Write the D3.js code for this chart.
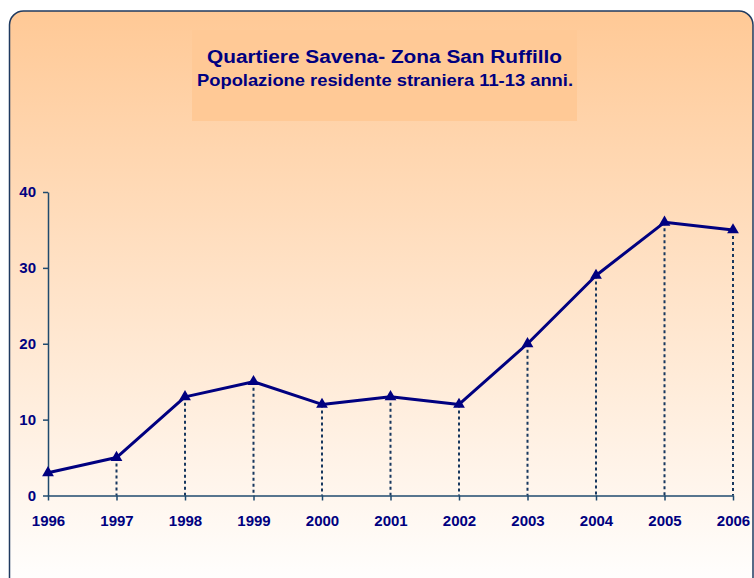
<!DOCTYPE html>
<html>
<head>
<meta charset="utf-8">
<script src="https://cdn.jsdelivr.net/npm/d3@7/dist/d3.min.js"></script>
<style>
  html, body { margin: 0; padding: 0; background: #fff; }
  text { font-family: Arial, "Liberation Sans", sans-serif; font-weight: bold; fill: #000080; }
</style>
</head>
<body>
<div id="chart"></div>
<script>
var years = [1996, 1997, 1998, 1999, 2000, 2001, 2002, 2003, 2004, 2005, 2006];
var values = [3, 5, 13, 15, 12, 13, 12, 20, 29, 36, 35];
var yTicks = [0, 10, 20, 30, 40];
var title1 = "Quartiere Savena- Zona San Ruffillo";
var title2 = "Popolazione residente straniera 11-13 anni.";

var w = 754;
var h = 578;

var svg = d3.select("#chart")
  .append("svg")
  .attr("width", w)
  .attr("height", h);

var defs = svg.append("defs");
var grad = defs.append("linearGradient")
  .attr("id", "bg")
  .attr("x1", 0).attr("y1", 0)
  .attr("x2", 0).attr("y2", 1);
grad.append("stop").attr("offset", "0%").attr("stop-color", "#ffc996");
grad.append("stop").attr("offset", "100%").attr("stop-color", "#ffffff");

// chart area with rounded border
svg.append("rect")
  .attr("x", 9.5)
  .attr("y", 11)
  .attr("width", 743.5)
  .attr("height", 580)
  .attr("rx", 14)
  .attr("fill", "url(#bg)")
  .attr("stroke", "#1f3a60")
  .attr("stroke-width", 1.5);

// title box
svg.append("rect")
  .attr("x", 192)
  .attr("y", 30)
  .attr("width", 385)
  .attr("height", 91)
  .attr("fill", "#ffc996");

svg.append("text")
  .attr("x", 384.5)
  .attr("y", 62.5)
  .attr("text-anchor", "middle")
  .attr("textLength", 355)
  .attr("lengthAdjust", "spacingAndGlyphs")
  .style("font-size", "18px")
  .text(title1);

svg.append("text")
  .attr("x", 385)
  .attr("y", 85.5)
  .attr("text-anchor", "middle")
  .attr("textLength", 376)
  .attr("lengthAdjust", "spacingAndGlyphs")
  .style("font-size", "16.5px")
  .text(title2);

var x = d3.scaleLinear()
  .domain([years[0], years[years.length - 1]])
  .range([48, 733]);

var y = d3.scaleLinear()
  .domain([0, 40])
  .range([495.5, 192]);

var axisColor = "#1f4a6e";

// drop lines
svg.append("g")
  .selectAll("line")
  .data(years.map(function(d, i) { return {year: d, v: values[i]}; }).slice(1))
  .enter()
  .append("line")
  .attr("x1", function(d) { return x(d.year); })
  .attr("x2", function(d) { return x(d.year); })
  .attr("y1", function(d) { return y(d.v); })
  .attr("y2", y(0))
  .attr("stroke", "#17375e")
  .attr("stroke-width", 2)
  .attr("stroke-dasharray", "3,3");

// y axis
var yaxis = svg.append("g")
  .attr("transform", "translate(" + x(years[0]) + ",0)")
  .call(d3.axisLeft(y).tickValues(yTicks).tickSize(5).tickSizeOuter(0).tickPadding(7));
yaxis.select(".domain").attr("stroke", axisColor).attr("stroke-width", 1.5);
yaxis.selectAll(".tick line").attr("stroke", axisColor).attr("stroke-width", 1.5);
yaxis.selectAll("text")
  .attr("fill", "#000080")
  .style("font-size", "15px")
  .style("font-family", "Arial, 'Liberation Sans', sans-serif")
  .style("font-weight", "bold");

// x axis
var xaxis = svg.append("g")
  .attr("transform", "translate(0," + y(0) + ")")
  .call(d3.axisBottom(x).tickValues(years).tickFormat(d3.format("d")).tickSize(5).tickSizeOuter(0).tickPadding(14.5));
xaxis.select(".domain").attr("stroke", axisColor).attr("stroke-width", 1.5);
xaxis.selectAll(".tick line").attr("stroke", axisColor).attr("stroke-width", 1.5);
xaxis.selectAll("text")
  .attr("fill", "#000080")
  .style("font-size", "15px")
  .style("font-family", "Arial, 'Liberation Sans', sans-serif")
  .style("font-weight", "bold");

// series line
var line = d3.line()
  .x(function(d, i) { return x(years[i]); })
  .y(function(d) { return y(d); });

svg.append("path")
  .datum(values)
  .attr("d", line)
  .attr("fill", "none")
  .attr("stroke", "#000080")
  .attr("stroke-width", 3)
  .attr("stroke-linejoin", "round");

// triangle markers
var tri = d3.symbol().type(d3.symbolTriangle).size(60);
svg.append("g")
  .selectAll("path")
  .data(values)
  .enter()
  .append("path")
  .attr("d", tri)
  .attr("transform", function(d, i) { return "translate(" + x(years[i]) + "," + y(d) + ")"; })
  .attr("fill", "#000080");
</script>
</body>
</html>
